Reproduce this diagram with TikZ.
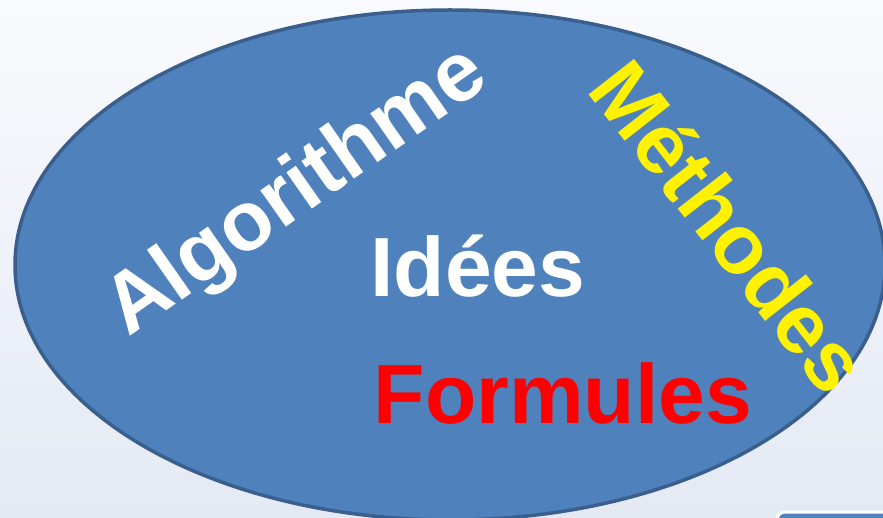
\documentclass[tikz,border=0pt]{standalone}
\usepackage{fontspec}
\setmainfont{Liberation Sans}
\definecolor{bgtop}{HTML}{F9FAFD}
\definecolor{bgbot}{HTML}{E4E9F4}
\definecolor{ovalfill}{HTML}{4F81BD}
\definecolor{ovaldraw}{HTML}{3A5F8C}
\tikzset{word/.style={font=\bfseries\fontsize{84}{84}\selectfont, inner sep=0pt}}
\begin{document}
\begin{tikzpicture}[x=1pt,y=-1pt]
\useasboundingbox (0,0) rectangle (883,518);
\clip (0,0) rectangle (883,518);
\shade[top color=bgtop, bottom color=bgbot] (0,0) rectangle (883,518);
\draw[ovaldraw, line width=3.5pt, fill=ovalfill] (450,265) ellipse [x radius=435, y radius=255];
\draw[white, line width=3pt, fill=ovalfill, rounded corners=8pt] (777,512) rectangle (920,560);
\node[word, white, anchor=base west, rotate=35] (algo) at (128,338) {Algorithme};
\node[word, yellow, anchor=base west, rotate=-52] (meth) at (585,90) {Méthodes};
\node[word, white, anchor=base] (idees) at (478,297) {Idées};
\node[word, red, anchor=base] (form) at (563,423) {Formules};
\end{tikzpicture}
\end{document}
